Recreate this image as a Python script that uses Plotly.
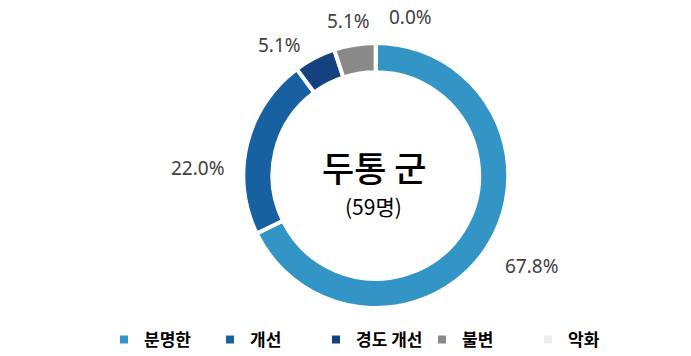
import plotly.graph_objects as go

labels = ["분명한", "개선", "경도 개선", "불변", "악화"]
counts = [40, 13, 3, 3, 0]
colors = ["#3394C6", "#1761A0", "#13427F", "#8A8A8A", "#EDEDED"]
center_title = "두통 군"
center_sub = "(59명)"

W, H = 691, 356
cx, cy, R = 375.8, 175.5, 132.5
dom_x = [(cx - R) / W, (cx + R) / W]
dom_y = [(H - cy - R) / H, (H - cy + R) / H]

# pixel positions (layout) of the data labels, one per slice
label_px = [(531.5, 265.5), (197.5, 168), (279, 45), (348, 21), (410.5, 16.5)]

total = sum(counts)
pct_text = [f"{c / total * 100:.1f}%" for c in counts]

fig = go.Figure(go.Pie(
    labels=labels, values=counts, sort=False, direction="clockwise", rotation=0,
    hole=0.78, marker=dict(colors=colors, line=dict(color="white", width=4)),
    textinfo="none", domain=dict(x=dom_x, y=dom_y), showlegend=True,
    hoverinfo="label+percent",
))

for t, (px, py) in zip(pct_text, label_px):
    fig.add_annotation(x=px / W, y=(H - py) / H, xref="paper", yref="paper",
                       text=t, showarrow=False, xanchor="center", yanchor="middle",
                       font=dict(family="Noto Sans", size=19, color="#404040"))

fig.add_annotation(x=374.5 / W, y=(H - 166) / H, xref="paper", yref="paper",
                   text=center_title, showarrow=False, yanchor="middle",
                   font=dict(family="Noto Sans CJK KR", size=35, color="#000", weight=500))
fig.add_annotation(x=373.5 / W, y=(H - 205.5) / H, xref="paper", yref="paper",
                   text=center_sub, showarrow=False, yanchor="middle",
                   font=dict(family="Noto Sans CJK KR", size=21, color="#000"))

fig.update_layout(
    width=W, height=H, margin=dict(l=0, r=0, t=0, b=0, autoexpand=False),
    paper_bgcolor="white", plot_bgcolor="white",
    legend=dict(orientation="h", x=104 / W, xanchor="left", y=(H - 340) / H, yanchor="middle",
                entrywidth=61, entrywidthmode="pixels",
                font=dict(family="Noto Sans CJK KR", size=17, color="#000", weight=700),
                itemwidth=30, tracegroupgap=0),
)
fig.write_html("out.html", config={"displayModeBar": False},
               post_script="document.body.style.margin='0';")
